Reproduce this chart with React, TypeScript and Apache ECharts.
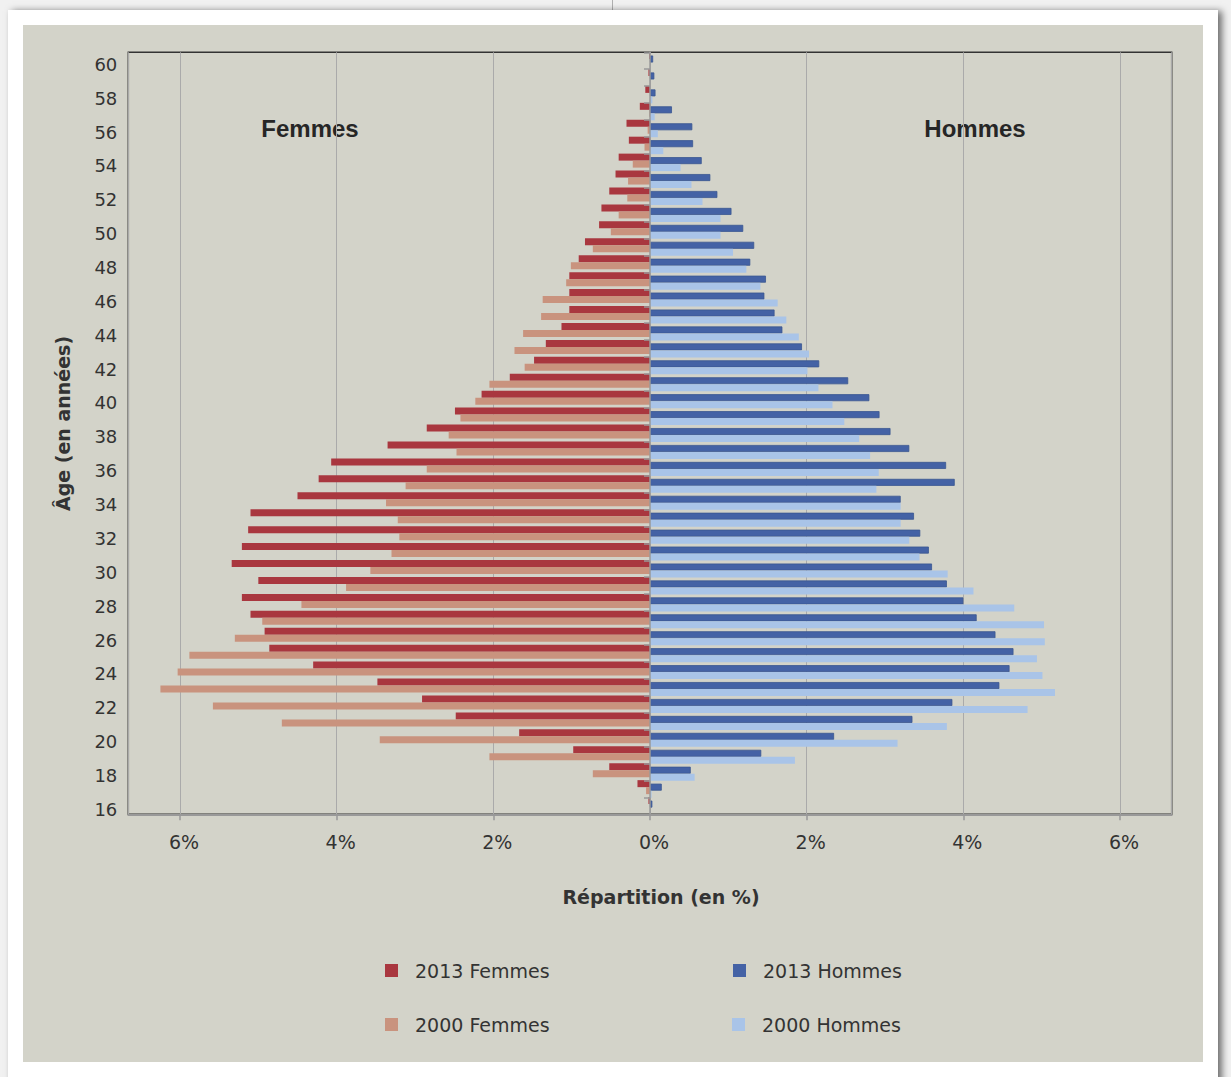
import React, { useEffect, useRef } from "react";
import * as echarts from "echarts";

// Ages 16 .. 60
const ages: string[] = [
  "16", "17", "18", "19", "20", "21", "22", "23", "24", "25",
  "26", "27", "28", "29", "30", "31", "32", "33", "34", "35",
  "36", "37", "38", "39", "40", "41", "42", "43", "44", "45",
  "46", "47", "48", "49", "50", "51", "52", "53", "54", "55",
  "56", "57", "58", "59", "60",
];

// Répartition (en %) by age, 16 .. 60
const femmes2013: number[] = [
  0.02, 0.16, 0.52, 0.98, 1.67, 2.48, 2.91, 3.48, 4.30, 4.86,
  4.92, 5.10, 5.21, 5.00, 5.34, 5.21, 5.13, 5.10, 4.50, 4.23,
  4.07, 3.35, 2.85, 2.49, 2.15, 1.79, 1.48, 1.33, 1.13, 1.03,
  1.03, 1.03, 0.91, 0.83, 0.65, 0.62, 0.52, 0.44, 0.40, 0.27,
  0.30, 0.13, 0.06, 0.02, 0.01,
];
const femmes2000: number[] = [
  0.0, 0.05, 0.73, 2.05, 3.45, 4.70, 5.58, 6.25, 6.03, 5.88,
  5.30, 4.95, 4.45, 3.88, 3.57, 3.30, 3.20, 3.22, 3.37, 3.12,
  2.85, 2.47, 2.57, 2.42, 2.23, 2.05, 1.60, 1.73, 1.62, 1.39,
  1.37, 1.07, 1.01, 0.73, 0.50, 0.40, 0.29, 0.28, 0.22, 0.07,
  0.03, 0.01, 0.0, 0.0, 0.0,
];
const hommes2013: number[] = [
  0.03, 0.15, 0.52, 1.42, 2.35, 3.35, 3.86, 4.46, 4.59, 4.64,
  4.41, 4.17, 4.00, 3.79, 3.60, 3.56, 3.45, 3.37, 3.20, 3.89,
  3.78, 3.31, 3.07, 2.93, 2.80, 2.53, 2.16, 1.94, 1.69, 1.59,
  1.46, 1.48, 1.28, 1.33, 1.19, 1.04, 0.86, 0.77, 0.66, 0.55,
  0.54, 0.28, 0.07, 0.055, 0.04,
];
const hommes2000: number[] = [
  0.0, 0.02, 0.57, 1.85, 3.16, 3.79, 4.82, 5.17, 5.01, 4.94,
  5.04, 5.03, 4.65, 4.13, 3.80, 3.44, 3.31, 3.20, 3.20, 2.89,
  2.92, 2.81, 2.67, 2.48, 2.33, 2.15, 2.01, 2.03, 1.90, 1.74,
  1.63, 1.41, 1.23, 1.06, 0.90, 0.90, 0.67, 0.53, 0.39, 0.17,
  0.10, 0.06, 0.03, 0.0, 0.0,
];

const xExtent = 6.66;

const C_F13 = "#a9373f";
const C_F00 = "#c9937e";
const C_H13 = "#4462a5";
const C_H00 = "#a9c4e8";
const BG = "#d3d3c9";
const FONT = "DejaVu Sans, Verdana, sans-serif";

export default function App() {
  const ref = useRef<HTMLDivElement>(null);

  useEffect(() => {
    if (!ref.current) return;
    const chart = echarts.init(ref.current, null, { renderer: "svg" });

    const barCommon = {
      type: "bar",
      barWidth: 7,
      barGap: "-50%",
      yAxisIndex: 0,
      xAxisIndex: 0,
    };

    const legendCommon = {
      orient: "horizontal",
      padding: 0,
      itemWidth: 13,
      itemHeight: 13,
      icon: "rect",
      selectedMode: false,
      itemStyle: { borderWidth: 0 },
      textStyle: {
        fontFamily: FONT,
        fontSize: 19,
        color: "#333",
        padding: [0, 0, 0, 12],
      },
    };

    chart.setOption({
      animation: false,
      backgroundColor: BG,
      grid: {
        left: 105.3,
        top: 27.3,
        width: 1043.4,
        height: 762,
        show: true,
        backgroundColor: "transparent",
        borderColor: "#333",
        borderWidth: 1.5,
        containLabel: false,
        outerBoundsMode: "none",
      },
      xAxis: [
        {
          type: "value",
          min: -xExtent,
          max: xExtent,
          splitNumber: 6,
          axisLine: { show: true, onZero: false, lineStyle: { color: "#999", width: 2 } },
          axisTick: { show: true, inside: false, length: 6, lineStyle: { color: "#999", width: 1.5 } },
          splitLine: { show: true, lineStyle: { color: "#aaa", width: 1 } },
          axisLabel: {
            show: true,
            showMinLabel: false,
            showMaxLabel: false,
            margin: 18,
            fontFamily: FONT,
            fontSize: 19,
            color: "#333",
            padding: [0, 0, 0, 8],
            formatter: (v: number) => `${Math.round(Math.abs(v))}%`,
          },
        },
      ],
      yAxis: [
        {
          type: "category",
          data: ages,
          position: "left",
          axisLine: { show: false, onZero: false },
          axisTick: { show: false },
          splitLine: { show: false },
          axisLabel: {
            interval: 1,
            margin: 11,
            formatter: "{a|{value}}",
            rich: {
              a: {
                fontFamily: FONT,
                fontSize: 18,
                color: "#333",
                padding: [7, 0, 0, 0],
              },
            },
          },
        },
        {
          type: "category",
          data: ages,
          position: "left",
          z: 5,
          axisLine: {
            show: true,
            onZero: true,
            onZeroAxisIndex: 0,
            lineStyle: { color: "#9a9a9a", width: 1.5 },
          },
          axisTick: {
            show: true,
            inside: false,
            interval: 0,
            alignWithLabel: false,
            length: 6,
            lineStyle: { color: "#9a9a9a", width: 1.5 },
          },
          axisLabel: { show: false },
          splitLine: { show: false },
        },
      ],
      legend: [
        { ...legendCommon, data: ["2013 Femmes"], left: 362, top: 936 },
        { ...legendCommon, data: ["2013 Hommes"], left: 710, top: 936 },
        { ...legendCommon, data: ["2000 Femmes"], left: 362, top: 990 },
        { ...legendCommon, data: ["2000 Hommes"], left: 709, top: 990 },
      ],
      graphic: [
        {
          type: "text",
          x: 287,
          y: 103,
          style: {
            text: "Femmes",
            align: "center",
            verticalAlign: "middle",
            fontFamily: "Liberation Sans, Arial, sans-serif",
            fontWeight: "bold",
            fontSize: 24,
            fill: "#262626",
          },
        },
        {
          type: "text",
          x: 952,
          y: 103,
          style: {
            text: "Hommes",
            align: "center",
            verticalAlign: "middle",
            fontFamily: "Liberation Sans, Arial, sans-serif",
            fontWeight: "bold",
            fontSize: 24,
            fill: "#262626",
          },
        },
        {
          type: "text",
          x: 638,
          y: 872,
          style: {
            text: "Répartition (en %)",
            align: "center",
            verticalAlign: "middle",
            fontFamily: FONT,
            fontWeight: "bold",
            fontSize: 19,
            fill: "#333",
          },
        },
        {
          type: "text",
          x: 40,
          y: 398.5,
          rotation: Math.PI / 2,
          style: {
            text: "Âge (en années)",
            align: "center",
            verticalAlign: "middle",
            fontFamily: FONT,
            fontWeight: "bold",
            fontSize: 19,
            fill: "#333",
          },
        },
      ],
      series: [
        {
          ...barCommon,
          name: "2013 Femmes",
          data: femmes2013.map((v) => -v),
          itemStyle: { color: C_F13 },
        },
        {
          ...barCommon,
          name: "2013 Hommes",
          data: hommes2013,
          itemStyle: { color: C_H13, borderColor: "#3a5791", borderWidth: 0.8 },
        },
        {
          ...barCommon,
          name: "2000 Femmes",
          data: femmes2000.map((v) => -v),
          itemStyle: { color: C_F00 },
        },
        {
          ...barCommon,
          name: "2000 Hommes",
          data: hommes2000,
          itemStyle: { color: C_H00 },
        },
      ],
    });

    return () => chart.dispose();
  }, []);

  return (
    <div
      style={{
        position: "fixed",
        left: 0,
        top: 0,
        right: 0,
        bottom: 0,
        background: "#f1f1f1",
        overflow: "hidden",
      }}
    >
      <div
        style={{
          position: "absolute",
          left: 612,
          top: 0,
          width: 1,
          height: 10,
          background: "#b0b0b0",
        }}
      />
      <div
        style={{
          position: "absolute",
          left: 8,
          top: 10,
          width: 1210,
          height: 1120,
          background: "#ffffff",
          boxShadow: "4px 1px 7px rgba(0,0,0,0.55)",
        }}
      />
      <div
        ref={ref}
        style={{
          position: "absolute",
          left: 23,
          top: 25,
          width: 1180,
          height: 1037,
        }}
      />
    </div>
  );
}
